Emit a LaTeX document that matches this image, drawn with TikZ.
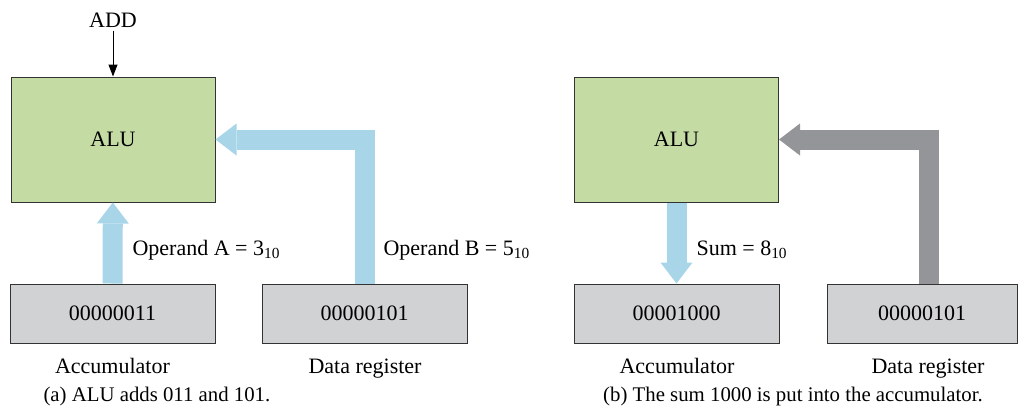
\documentclass[tikz,border=0pt]{standalone}
\usepackage{fontspec}
\setmainfont{Liberation Serif}
\usetikzlibrary{arrows.meta}
\definecolor{alugreen}{HTML}{C5DBA4}
\definecolor{busblue}{HTML}{A8D5E8}
\definecolor{reggray}{HTML}{D1D2D4}
\definecolor{busgray}{HTML}{939598}

\begin{document}
\begin{tikzpicture}[x=1pt,y=-1pt,
  every node/.style={font=\fontsize{22}{26}\selectfont},
  alubox/.style={draw=black!80,line width=1pt,fill=alugreen,minimum width=204pt,minimum height=125pt,inner sep=0pt},
  regbox/.style={draw=black!80,line width=1pt,fill=reggray,minimum width=205pt,minimum height=59pt,inner sep=0pt},
  lbl/.style={anchor=base},
  caption/.style={anchor=base,font=\fontsize{20.8}{25}\selectfont},
  bus/.style={line width=20pt,line join=miter,-{Triangle[width=32pt,length=21pt,line width=0pt]}}]
\useasboundingbox (0,0) rectangle (1018,407);
\node[alubox] (alu) at (113,139.5) {ALU};
\node[lbl] (add) at (113,27) {ADD};
\node[regbox] (acc) at (112.5,313.5) {00000011};
\node[regbox] (dr) at (364.5,313.5) {00000101};
\node[lbl] (acclbl) at (112.5,373) {Accumulator};
\node[lbl] (drlbl) at (365,373) {Data register};
\node[caption,anchor=base west] (capa) at (40,401) {(a) ALU adds 011 and 101.};
\draw[line width=1pt,-{Triangle[length=12pt,width=9pt]}] (add) -- (alu);
\draw[bus,busblue] (acc) -- (alu);
\draw[bus,busblue] (dr) |- (alu);
\node[anchor=base west] (opa) at (129,255) {Operand A = 3\textsubscript{10}};
\node[anchor=base west] (opb) at (380,255) {Operand B = 5\textsubscript{10}};
\node[alubox] (alu2) at (676.5,139.5) {ALU};
\node[regbox] (acc2) at (676.5,313.5) {00001000};
\node[regbox,minimum width=190pt] (dr2) at (922,313.5) {00000101};
\node[lbl] (acclbl2) at (677,373) {Accumulator};
\node[lbl] (drlbl2) at (928,373) {Data register};
\node[caption] (capb) at (793,401) {(b) The sum 1000 is put into the accumulator.};
\draw[bus,busblue] (alu2) -- (acc2);
\draw[bus,busgray] ([xshift=7pt]dr2.north) |- (alu2.east);
\node[anchor=base west] (sum) at (693,255) {Sum = 8\textsubscript{10}};
\end{tikzpicture}
\end{document}
